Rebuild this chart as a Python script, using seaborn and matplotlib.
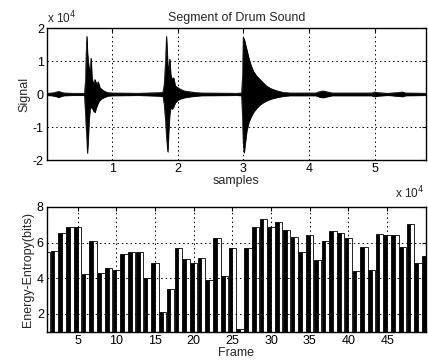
import numpy as np
import pandas as pd
import matplotlib
matplotlib.use("Agg")
import matplotlib.pyplot as plt
import seaborn as sns

# ---- Top panel: envelope of the drum signal (x in 1e4 samples, y in 1e4) ----
sig_x = [0.00, 0.08, 0.15, 0.18, 0.21, 0.26, 0.40, 0.575, 0.59, 0.60, 0.612, 0.62,
         0.632, 0.645, 0.66, 0.675, 0.69, 0.71, 0.735, 0.76, 0.785, 0.81, 0.84,
         0.88, 0.93, 1.00, 1.40, 1.70, 1.77, 1.79, 1.81, 1.825, 1.845, 1.86, 1.875,
         1.89, 1.91, 1.935, 1.96, 2.00, 2.05, 2.10, 2.20, 2.35, 2.90, 2.97, 2.985,
         2.995, 3.01, 3.025, 3.05, 3.08, 3.11, 3.15, 3.20, 3.25, 3.30, 3.35, 3.42,
         3.50, 3.60, 3.70, 4.10, 4.17, 4.22, 4.28, 4.35, 4.95, 5.00, 5.05, 5.20,
         5.38, 5.42, 5.47, 5.78]
sig_upper = [0.03, 0.04, 0.07, 0.09, 0.07, 0.04, 0.03, 0.03, 0.40, 1.20, 1.76, 1.30,
             1.00, 0.80, 0.65, 1.10, 0.50, 0.30, 0.45, 0.30, 0.38, 0.20, 0.15,
             0.09, 0.05, 0.04, 0.03, 0.05, 0.06, 0.30, 1.00, 1.76, 0.90, 0.70, 1.07,
             0.60, 0.45, 0.50, 0.25, 0.20, 0.14, 0.10, 0.07, 0.04, 0.03, 0.04, 0.60,
             1.72, 1.68, 1.55, 1.35, 1.10, 0.90, 0.70, 0.55, 0.45, 0.35, 0.25, 0.17,
             0.11, 0.06, 0.04, 0.04, 0.09, 0.10, 0.07, 0.04, 0.04, 0.07, 0.05, 0.03,
             0.06, 0.07, 0.04, 0.03]
sig_lower = [-0.03, -0.04, -0.07, -0.09, -0.07, -0.04, -0.03, -0.03, -0.60, -1.00, -1.40, -1.79,
             -1.40, -0.80, -0.45, -0.40, -0.40, -0.50, -0.55, -0.38, -0.25, -0.18, -0.13,
             -0.09, -0.05, -0.04, -0.03, -0.05, -0.06, -0.30, -0.80, -1.30, -1.75, -1.10, -0.60,
             -0.40, -0.45, -0.38, -0.25, -0.17, -0.13, -0.10, -0.07, -0.04, -0.03, -0.04, -0.80,
             -1.50, -1.78, -1.50, -1.10, -0.85, -0.70, -0.55, -0.42, -0.32, -0.25, -0.20, -0.14,
             -0.10, -0.06, -0.04, -0.04, -0.09, -0.10, -0.07, -0.04, -0.04, -0.07, -0.05, -0.03,
             -0.06, -0.07, -0.04, -0.03]

sig_xticks = [1, 2, 3, 4, 5]
sig_yticks = [-2, -1, 0, 1, 2]

# ---- Bottom panel: energy-entropy per frame ----
frames = list(range(1, 51))
energy_entropy = [5.50, 5.55, 6.55, 6.85, 6.85, 4.23, 6.09, 4.30, 4.56, 4.47,
                  5.34, 5.45, 5.49, 4.00, 4.88, 2.13, 3.41, 5.68, 5.06, 4.84,
                  5.12, 3.91, 6.27, 4.15, 5.68, 1.15, 5.68, 6.88, 7.35, 6.88,
                  7.13, 6.70, 6.33, 5.49, 6.42, 5.03, 6.09, 6.64, 6.51, 6.27,
                  4.41, 5.77, 4.49, 6.46, 6.42, 6.42, 5.74, 7.02, 4.84, 5.25]
frame_xticks = [5, 10, 15, 20, 25, 30, 35, 40, 45]
ee_yticks = [2, 4, 6, 8]

sns.set_style("white")
plt.rcParams['font.family'] = ['Liberation Sans', 'DejaVu Sans']
FS = 9

fig = plt.figure(figsize=(4.28, 3.63), dpi=100)
ax1 = fig.add_axes([0.109, 0.559, 0.886, 0.363])
ax2 = fig.add_axes([0.109, 0.086, 0.886, 0.344])

grid_kw = dict(color='black', linestyle=(0, (1.5, 3)), linewidth=0.7)

# top panel
ax1.fill_between(sig_x, sig_lower, sig_upper, color='black', linewidth=0.5, edgecolor='black')
sns.lineplot(x=sig_x, y=sig_upper, color='black', linewidth=0.4, ax=ax1)
sns.lineplot(x=sig_x, y=sig_lower, color='black', linewidth=0.4, ax=ax1)
ax1.set_xlim(0, 5.78)
ax1.set_ylim(-2, 2)
ax1.set_xticks(sig_xticks)
ax1.set_yticks(sig_yticks)
ax1.set_xticklabels([str(t) for t in sig_xticks])
ax1.set_yticklabels([str(t) for t in sig_yticks])
ax1.set_axisbelow(False)
ax1.grid(True, **grid_kw)
ax1.set_title("Segment of Drum Sound", fontsize=FS, pad=5)
ax1.set_ylabel("Signal", fontsize=FS, labelpad=2)
ax1.set_xlabel("samples", fontsize=FS, labelpad=0)
ax1.text(0.0, 1.015, r"x 10$^4$", transform=ax1.transAxes, fontsize=FS - 0.5,
         ha='left', va='bottom')
ax1.text(0.995, -0.19, r"x 10$^4$", transform=ax1.transAxes, fontsize=FS - 0.5,
         ha='right', va='top')

# bottom panel
df = pd.DataFrame({
    'frame': frames * 2,
    'value': energy_entropy * 2,
    'part': ['dark'] * len(frames) + ['light'] * len(frames),
})
sns.barplot(data=df, x='frame', y='value', hue='part', hue_order=['dark', 'light'],
            palette={'dark': 'black', 'light': 'white'}, native_scale=True,
            width=0.95, edgecolor='black', linewidth=0.6, legend=False,
            dodge=True, ax=ax2, errorbar=None)
ax2.set_xlim(1, 50)
ax2.set_ylim(1, 8)
ax2.set_xticks(frame_xticks)
ax2.set_yticks(ee_yticks)
ax2.set_xticklabels([str(t) for t in frame_xticks])
ax2.set_yticklabels([str(t) for t in ee_yticks])
ax2.set_axisbelow(False)
ax2.grid(True, **grid_kw)
ax2.set_ylabel("Energy-Entropy(bits)", fontsize=FS, labelpad=2)
ax2.set_xlabel("Frame", fontsize=FS, labelpad=0)

for ax in (ax1, ax2):
    for s in ax.spines.values():
        s.set_color('black')
        s.set_linewidth(1.0)
        s.set_visible(True)
    ax.tick_params(direction='in', length=3, width=0.8, labelsize=FS,
                   top=True, right=True, pad=2, colors='black')

fig.savefig("out.png", dpi=100)
